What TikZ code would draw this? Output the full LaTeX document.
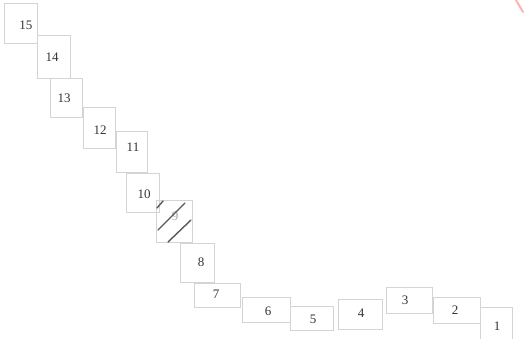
\documentclass[tikz,border=0pt]{standalone}
\usepackage{fontspec}
\setmainfont{Liberation Serif}
\usetikzlibrary{fit}
\tikzset{
  cell/.style={draw=black!17, line width=0.9pt, inner sep=0pt},
  lab/.style={font=\fontsize{13}{15}\selectfont, text=black!80, inner sep=0pt},
  hatch/.style={draw=black!65, line width=1.4pt, line cap=round},
}
\newcommand\bx[8]{%
  \node[cell, fit={(#2,#3)(#4,#5)}] (#1) {};
  \node[lab] (l#1) at (#7,#8) {#6};
}
\begin{document}
\begin{tikzpicture}[x=1pt,y=-1pt]
\useasboundingbox (0,0) rectangle (524,338);
\clip (0,0) rectangle (524,338);
\bx{b15}{4}{3}{37}{43}{15}{26}{25}
\bx{b14}{37}{35}{70}{78}{14}{52}{57}
\bx{b13}{50}{78}{82}{117}{13}{64}{98}
\bx{b12}{83}{107}{115}{148}{12}{100}{130}
\bx{b11}{116}{131}{147}{172}{11}{133}{147}
\bx{b10}{126}{173}{159}{212}{10}{144}{194}
\node[cell, fit={(156,200)(192,242)}] (b9) {};
\node[lab, text=black!35] (l9) at (175,216) {9};
\draw[hatch] (157,208) -- (163,201);
\draw[hatch] (158,230) -- (185,203);
\draw[hatch] (168,242) -- (191,220);
\bx{b8}{180}{243}{214}{282}{8}{201}{262}
\bx{b7}{194}{283}{240}{307}{7}{216}{294}
\bx{b6}{242}{297}{290}{322}{6}{268}{311}
\bx{b5}{290}{306}{333}{330}{5}{313}{319}
\bx{b4}{338}{299}{382}{329}{4}{361}{313}
\bx{b3}{386}{287}{432}{313}{3}{405}{300}
\bx{b2}{433}{297}{480}{323}{2}{455}{310}
\bx{b1}{480}{307}{512}{342}{1}{497}{326}
\draw[red!30, line width=2pt, line cap=round] (516,0) -- (523,12);
\end{tikzpicture}
\end{document}
